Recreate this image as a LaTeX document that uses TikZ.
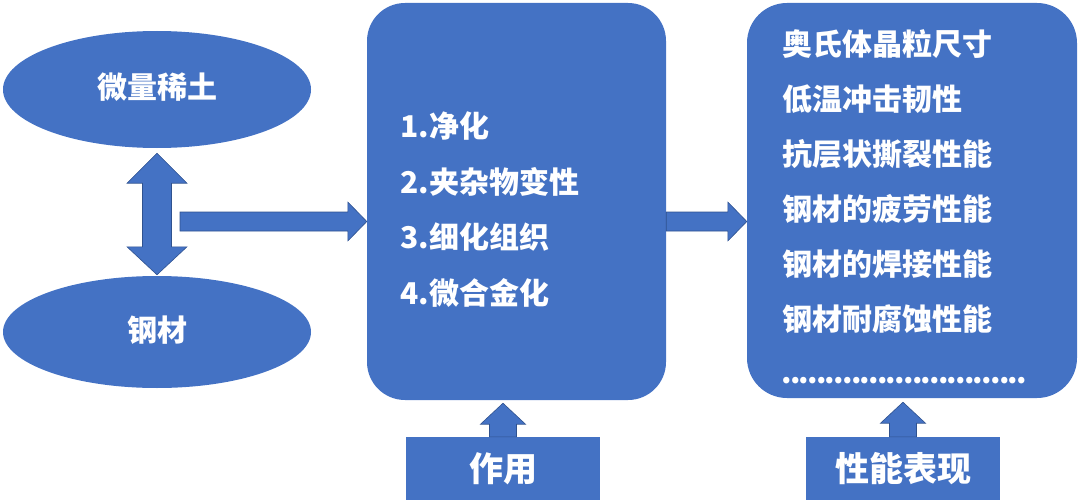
\documentclass[tikz,border=0pt]{standalone}
\usepackage{fontspec}
\setmainfont{Noto Sans CJK SC}
\usetikzlibrary{calc,positioning,shapes.geometric}

\definecolor{boxblue}{HTML}{4472C4}
\definecolor{edgeblue}{HTML}{2F528F}

% block arrows, drawn between two named points
\newcommand{\arrowright}[2]{%
  \filldraw[fatarrow] ($(#1)+(0,-9.5)$) -- ($(#2)+(-19,-9.5)$) -- ($(#2)+(-19,-19.5)$) -- (#2)
    -- ($(#2)+(-19,19.5)$) -- ($(#2)+(-19,9.5)$) -- ($(#1)+(0,9.5)$) -- cycle;}
\newcommand{\arrowup}[2]{%
  \filldraw[fatarrow] ($(#1)+(-13.5,0)$) -- ($(#2)+(-13.5,21)$) -- ($(#2)+(-22.5,21)$) -- (#2)
    -- ($(#2)+(22.5,21)$) -- ($(#2)+(13.5,21)$) -- ($(#1)+(13.5,0)$) -- cycle;}
\newcommand{\arrowboth}[2]{%
  \filldraw[fatarrow] (#1) -- ($(#1)+(30,30)$) -- ($(#1)+(14.5,30)$) -- ($(#2)+(14.5,-28)$)
    -- ($(#2)+(30,-28)$) -- (#2) -- ($(#2)+(-30,-28)$) -- ($(#2)+(-14.5,-28)$)
    -- ($(#1)+(-14.5,30)$) -- ($(#1)+(-30,30)$) -- cycle;}
\newcommand{\dotline}{\hbox to 244pt{\xleaders\hbox to 8.6pt{\hss.\hss}\hfill}}

\begin{document}
\begin{tikzpicture}[x=1pt, y=-1pt]
  \tikzstyle{blk}=[fill=boxblue, draw=none, inner sep=0pt]
  \tikzstyle{fatarrow}=[fill=boxblue, draw=edgeblue, line width=0.6pt, line join=miter]
  \tikzstyle{txt}=[text=white, inner sep=0pt, text height=26.4pt, text depth=3.6pt,
    font=\bfseries\fontsize{30}{36}\selectfont]
  \tikzstyle{bigtxt}=[txt, text height=29.9pt, text depth=4.1pt,
    font=\bfseries\fontsize{34}{40}\selectfont]

\useasboundingbox (0, 0) rectangle (1080, 503);

% left side
\node[blk, ellipse, minimum width=308pt, minimum height=117pt] (ree) at (157, 89.5) {};
\node[txt] (reet) at (157, 87) {微量稀土};

\node[blk, ellipse, minimum width=308pt, minimum height=112pt] (steel) at (157, 332) {};
\node[txt] (steelt) at (157, 330) {钢材};

\coordinate (d1) at ($(ree.south)+(0, 5)$);
\coordinate (d2) at ($(steel.north)+(0, -1)$);
\arrowboth{d1}{d2}

% effect box
\node[blk, rectangle, rounded corners=38pt, minimum width=299pt, minimum height=397pt] (act) at (516.5, 201.5) {};
\node[txt, anchor=west] (act1) at (400, 126) {1.净化};
\node[txt, below right=25.3pt and 0pt of act1.south west] (act2) {2.夹杂物变性};
\node[txt, below right=25.3pt and 0pt of act2.south west] (act3) {3.细化组织};
\node[txt, below right=25.3pt and 0pt of act3.south west] (act4) {4.微合金化};

\coordinate (a1) at (180, 221.5);
\arrowright{a1}{act.west |- a1}

% property box
\node[blk, rectangle, rounded corners=40pt, minimum width=330pt, minimum height=395pt] (prop) at (912, 200.5) {};
\node[txt, anchor=west] (prop1) at (782, 44) {奥氏体晶粒尺寸};
\node[txt, below right=24.6pt and 0pt of prop1.south west] (prop2) {低温冲击韧性};
\node[txt, below right=24.6pt and 0pt of prop2.south west] (prop3) {抗层状撕裂性能};
\node[txt, below right=24.6pt and 0pt of prop3.south west] (prop4) {钢材的疲劳性能};
\node[txt, below right=24.6pt and 0pt of prop4.south west] (prop5) {钢材的焊接性能};
\node[txt, below right=24.6pt and 0pt of prop5.south west] (prop6) {钢材耐腐蚀性能};
\node[txt, below right=23pt and 0pt of prop6.south west] (prop7) {\dotline};

\coordinate (a2) at (act.east |- a1);
\arrowright{a2}{prop.west |- a2}

% bottom labels
\node[blk, rectangle, minimum width=194pt, minimum height=63pt] (role) at (503, 468.5) {};
\node[bigtxt] (rolet) at (role) {作用};
\coordinate (r1) at ($(role.north |- act.south)+(0, 3)$);
\arrowup{role.north}{r1}

\node[blk, rectangle, minimum width=194pt, minimum height=63pt] (show) at (903, 468.5) {};
\node[bigtxt] (showt) at (show) {性能表现};
\coordinate (s1) at ($(show.north |- prop.south)+(0, 4)$);
\arrowup{show.north}{s1}

\end{tikzpicture}
\end{document}
